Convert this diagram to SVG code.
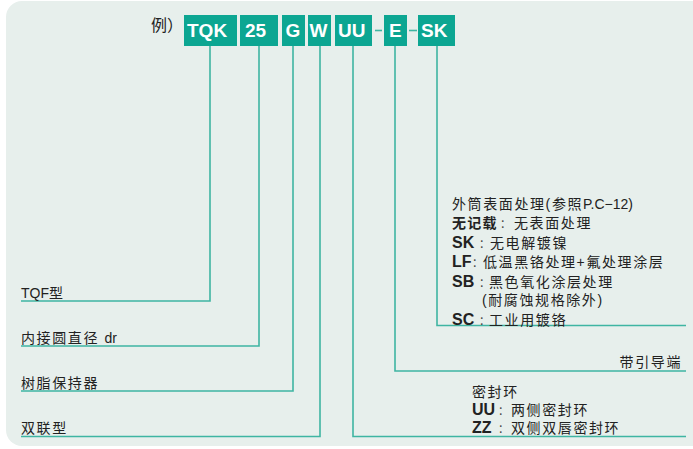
<svg xmlns="http://www.w3.org/2000/svg" width="693" height="449" viewBox="0 0 693 449">
<style>
.bg{fill:#e7efec}
.box{fill:#0ca692}
.bt{font-family:"Liberation Sans",Arial,sans-serif;font-weight:bold;font-size:19px;fill:#ffffff}
.ln{fill:none;stroke:#3fb5a2;stroke-width:1.6}
.t{font-family:"Liberation Sans","Noto Sans CJK SC",sans-serif;font-size:14px;fill:#222;letter-spacing:1.6px}
.b{font-weight:bold;font-size:16px;letter-spacing:0px}
.bc{font-weight:bold;letter-spacing:1.2px}
.c{font-size:11px;fill:#444;letter-spacing:0px}
.l{letter-spacing:0px}
</style>
<rect class="bg" x="6" y="1" width="720" height="445" rx="16"/>
<g id="title">
<text x="151" y="31" font-family="'Noto Sans CJK SC',sans-serif" font-size="16" fill="#222">例）</text>
</g>
<g id="code">
<g id="box-TQK"><rect class="box" x="184" y="15" width="53" height="31"/><text class="bt" x="187" y="37">TQK</text></g>
<g id="box-25"><rect class="box" x="240" y="15" width="38" height="31"/><text class="bt" x="245" y="37">25</text></g>
<g id="box-G"><rect class="box" x="282" y="15" width="23" height="31"/><text class="bt" x="285.5" y="37">G</text></g>
<g id="box-W"><rect class="box" x="308" y="15" width="23" height="31"/><text class="bt" x="309.5" y="37">W</text></g>
<g id="box-UU"><rect class="box" x="335" y="15" width="37" height="31"/><text class="bt" x="338" y="37">UU</text></g>
<g id="box-E"><rect class="box" x="384" y="15" width="23" height="31"/><text class="bt" x="389" y="37">E</text></g>
<g id="box-SK"><rect class="box" x="418" y="15" width="37" height="31"/><text class="bt" x="421" y="37">SK</text></g>
<line class="ln" x1="375" y1="30.5" x2="382" y2="30.5"/>
<line class="ln" x1="409" y1="30.5" x2="417" y2="30.5"/>
</g>
<g id="connectors">
<polyline class="ln" points="210,46 210,301 21,301"/>
<polyline class="ln" points="259,46 259,346 21,346"/>
<polyline class="ln" points="293,46 293,391 21,391"/>
<polyline class="ln" points="320,46 320,436.5 21,436.5"/>
<polyline class="ln" points="353,46 353,436.5 686,436.5"/>
<polyline class="ln" points="395,46 395,371 686,371"/>
<polyline class="ln" points="437,46 437,325.5 686,325.5"/>
</g>
<g id="label-TQF"><text class="t" x="21" y="298"><tspan class="l">TQF</tspan>型</text></g>
<g id="label-dr"><text class="t" x="21" y="343">内接圆直径 <tspan class="l">dr</tspan></text></g>
<g id="label-retainer"><text class="t" x="21" y="388">树脂保持器</text></g>
<g id="label-double"><text class="t" x="21" y="433">双联型</text></g>
<g id="label-guide"><text class="t" x="682" y="367" text-anchor="end">带引导端</text></g>
<g id="label-surface">
<text class="t" x="452" y="209">外筒表面处理(<tspan>参照</tspan><tspan class="l">P.C−12)</tspan></text>
<text class="t" x="452" y="228"><tspan class="bc">无记载</tspan><tspan class="c" x="500">：</tspan><tspan x="514">无表面处理</tspan></text>
<text class="t" x="452" y="248"><tspan class="b">SK</tspan><tspan class="c" x="479">：</tspan><tspan x="490">无电解镀镍</tspan></text>
<text class="t" x="452" y="267"><tspan class="b">LF</tspan><tspan class="c" x="472">：</tspan><tspan x="483">低温黑铬处理+氟处理涂层</tspan></text>
<text class="t" x="452" y="287"><tspan class="b">SB</tspan><tspan class="c" x="479">：</tspan><tspan x="489">黑色氧化涂层处理</tspan></text>
<text class="t" x="482" y="305">(耐腐蚀规格除外)</text>
<text class="t" x="452" y="325"><tspan class="b">SC</tspan><tspan class="c" x="479">：</tspan><tspan x="489">工业用镀铬</tspan></text>
</g>
<g id="label-seal">
<text class="t" x="472" y="397">密封环</text>
<text class="t" x="472" y="415"><tspan class="b">UU</tspan><tspan class="c" x="498">：</tspan><tspan x="511">两侧密封环</tspan></text>
<text class="t" x="472" y="433"><tspan class="b">ZZ</tspan><tspan class="c" x="498">：</tspan><tspan x="511">双侧双唇密封环</tspan></text>
</g>
</svg>
